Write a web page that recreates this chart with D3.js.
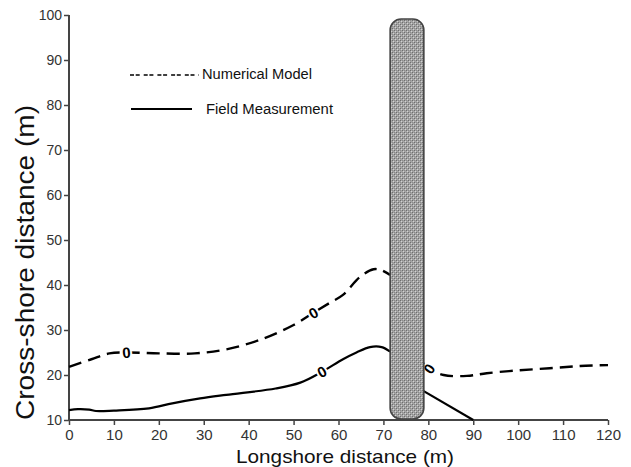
<!DOCTYPE html>
<html>
<head>
<meta charset="utf-8">
<script src="https://cdn.jsdelivr.net/npm/d3@7"></script>
<style>
  html, body { margin: 0; padding: 0; background: #fff; }
  svg { display: block; font-family: "Liberation Sans", Arial, sans-serif; }
</style>
</head>
<body>
<svg id="chart" width="631" height="467"></svg>
<script>
// ---- data ----
const xTicks = [0, 10, 20, 30, 40, 50, 60, 70, 80, 90, 100, 110, 120];
const yTicks = [10, 20, 30, 40, 50, 60, 70, 80, 90, 100];

// Numerical model (dashed) zero contour, left of breakwater
const modelLeftX = [0, 5, 9, 13, 20, 28, 35, 42.5, 50, 54.4, 58, 61, 64.8, 67.8, 69.5, 71.5];
const modelLeftY = [21.8, 23.5, 24.8, 25, 24.8, 24.8, 25.7, 27.8, 31.1, 33.8, 36, 37.8, 41.8, 43.5, 43.3, 42.2];
// right of breakwater
const modelRightX = [79, 80, 83.4, 88.6, 93, 99.7, 107, 113.8, 120];
const modelRightY = [22.6, 21.5, 20, 19.8, 20.4, 21, 21.5, 22, 22.2];

// Field measurement (solid) zero contour
const fieldLeftX = [0, 2, 4.5, 6, 10, 17.8, 23, 29.2, 35, 46, 51.5, 56.3, 61, 64, 67, 69.6, 71.5];
const fieldLeftY = [12.2, 12.4, 12.3, 12.0, 12.1, 12.6, 13.7, 14.8, 15.6, 17, 18.3, 20.7, 23.5, 25, 26.2, 26.2, 25.2];
const fieldRightX = [78.5, 90];
const fieldRightY = [16.7, 10];

// Contour labels "0": x, y, rotation
const labelX = [12.8, 54.4, 80.2, 56.3];
const labelY = [25, 33.8, 21.4, 20.7];
const labelRot = [-5, -30, -55, -28];

// Breakwater extent (data units)
const breakwaterX = [71.5, 79];
const breakwaterY = [10.2, 99.1];

// ---- chart ----
const svg = d3.select("#chart");
const x = d3.scaleLinear().domain([0, 120]).range([69, 608]);
const y = d3.scaleLinear().domain([10, 100]).range([420, 15]);

const defs = svg.append("defs");
const pat = defs.append("pattern").attr("id", "dots").attr("patternUnits", "userSpaceOnUse")
  .attr("width", 4).attr("height", 4);
pat.append("rect").attr("width", 4).attr("height", 4).attr("fill", "#a4a4a4");
[[0,0,"#6e6e6e"],[2,2,"#6e6e6e"],[1,1,"#d2d2d2"],[3,3,"#d2d2d2"],[2,0,"#8c8c8c"],[0,2,"#8c8c8c"]]
  .forEach(([px, py, c]) => pat.append("rect").attr("x", px).attr("y", py)
    .attr("width", 1).attr("height", 1).attr("fill", c));

// axes
const xAxis = d3.axisBottom(x).tickValues(xTicks).tickSize(5).tickPadding(4).tickFormat(d3.format("d"));
const yAxis = d3.axisLeft(y).tickValues(yTicks).tickSize(5).tickPadding(2).tickFormat(d3.format("d"));

const gx = svg.append("g").attr("transform", "translate(0,420)").call(xAxis);
gx.select(".domain").attr("d", `M${x(0)},0H${x(120)}`).attr("stroke", "#444").attr("stroke-width", 2);
gx.selectAll(".tick line").attr("stroke", "#444").attr("stroke-width", 1.5);
gx.selectAll(".tick text").attr("fill", "#333").style("font-size", "15px")
  .style("font-family", "'Liberation Sans', Arial, sans-serif");

const gy = svg.append("g").attr("transform", "translate(69,0)").call(yAxis);
gy.select(".domain").attr("d", `M0,${y(100)}V${y(10)}`).attr("stroke", "#444").attr("stroke-width", 2);
gy.selectAll(".tick line").attr("stroke", "#444").attr("stroke-width", 1.5);
gy.selectAll(".tick text").attr("fill", "#333").style("font-size", "14px")
  .style("font-family", "'Liberation Sans', Arial, sans-serif");

// axis titles
svg.append("text").attr("x", 236).attr("y", 463)
  .attr("textLength", 218).attr("lengthAdjust", "spacingAndGlyphs")
  .style("font-size", "19px").attr("fill", "#111").text("Longshore distance (m)");
svg.append("text").attr("transform", "translate(34,420) rotate(-90)")
  .attr("textLength", 315).attr("lengthAdjust", "spacingAndGlyphs")
  .style("font-size", "26px").attr("fill", "#111").text("Cross-shore distance (m)");

// contour lines
const line = d3.line().x(d => x(d[0])).y(d => y(d[1])).curve(d3.curveCatmullRom.alpha(0.5));
const zip = (a, b) => a.map((v, i) => [v, b[i]]);

const dashed = "13,7";
svg.append("path").datum(zip(modelLeftX, modelLeftY)).attr("d", line)
  .attr("fill", "none").attr("stroke", "#000").attr("stroke-width", 2.4).attr("stroke-dasharray", dashed);
svg.append("path").datum(zip(modelRightX, modelRightY)).attr("d", line)
  .attr("fill", "none").attr("stroke", "#000").attr("stroke-width", 2.4).attr("stroke-dasharray", dashed);
svg.append("path").datum(zip(fieldLeftX, fieldLeftY)).attr("d", line)
  .attr("fill", "none").attr("stroke", "#000").attr("stroke-width", 2.2);
svg.append("path").datum(zip(fieldRightX, fieldRightY)).attr("d", line)
  .attr("fill", "none").attr("stroke", "#000").attr("stroke-width", 2.2);

// contour labels
labelX.forEach((lx, i) => {
  svg.append("text")
    .attr("transform", `translate(${x(lx)},${y(labelY[i])}) rotate(${labelRot[i]})`)
    .attr("text-anchor", "middle").attr("dy", "0.36em")
    .style("font-size", "15px").style("font-weight", "bold")
    .attr("fill", "#000").attr("stroke", "#fff").attr("stroke-width", 4)
    .attr("paint-order", "stroke").text("0");
});

// breakwater
svg.append("rect")
  .attr("x", x(breakwaterX[0])).attr("y", y(breakwaterY[1]))
  .attr("width", x(breakwaterX[1]) - x(breakwaterX[0]))
  .attr("height", y(breakwaterY[0]) - y(breakwaterY[1]))
  .attr("rx", 11).attr("ry", 11)
  .attr("fill", "url(#dots)").attr("stroke", "#444").attr("stroke-width", 1.6);

// legend
svg.append("line").attr("x1", 130).attr("x2", 199).attr("y1", 75).attr("y2", 75)
  .attr("stroke", "#000").attr("stroke-width", 1.3).attr("stroke-dasharray", "4,1.7,4,4");
svg.append("text").attr("x", 202).attr("y", 78.5).attr("textLength", 110)
  .attr("lengthAdjust", "spacingAndGlyphs")
  .style("font-size", "14px").attr("fill", "#111").text("Numerical Model");
svg.append("line").attr("x1", 131).attr("x2", 192).attr("y1", 109).attr("y2", 109)
  .attr("stroke", "#000").attr("stroke-width", 2.2);
svg.append("text").attr("x", 206).attr("y", 113.5).attr("textLength", 127)
  .attr("lengthAdjust", "spacingAndGlyphs")
  .style("font-size", "14px").attr("fill", "#111").text("Field Measurement");
</script>
</body>
</html>
